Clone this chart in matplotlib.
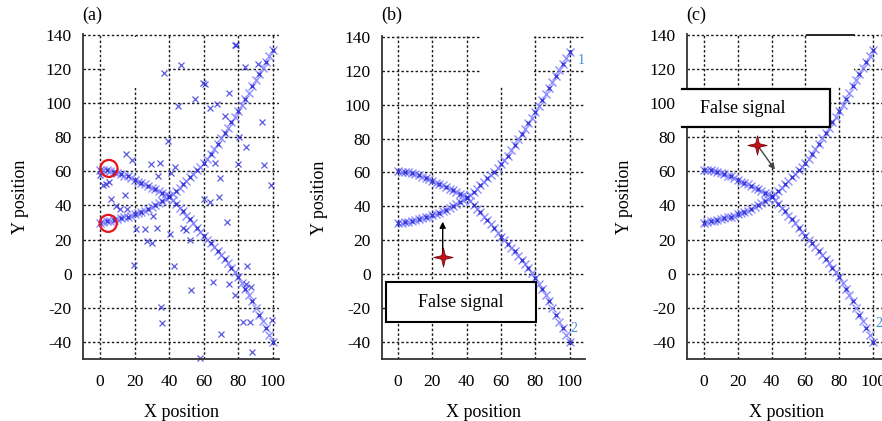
import numpy as np
import matplotlib
matplotlib.use('Agg')
import matplotlib.pyplot as plt
from matplotlib.path import Path
from matplotlib.patches import Rectangle

plt.rcParams['font.family'] = ['Liberation Serif', 'DejaVu Serif']
plt.rcParams['axes.unicode_minus'] = False

# ---------------- data ----------------
track_x = list(range(0, 101, 2))
track1_y = [30, 30.5, 31, 31, 31.5, 32, 32.5, 33, 33.5, 34, 35,
            35.5, 36, 37, 38, 39, 40, 41.5, 42.5, 44, 45.5,
            47, 48.5, 50.5, 52.5, 54.5, 56.5, 58.5, 60.5, 62.5, 65,
            67.5, 70, 73, 76, 79.5, 82.5, 85.5, 89, 92, 95.5,
            99, 102.5, 106, 110, 113.5, 117, 120.5, 124, 127.5, 131]
track2_y = [61, 60.5, 60.5, 60, 59.5, 59, 58.5, 57.5, 57, 56, 55,
            54, 53, 52.5, 51.5, 50.5, 49.5, 48.5, 47.5, 46.5, 45,
            43, 41, 38.5, 36.5, 34, 32, 29.5, 27, 24.5, 22,
            20, 18, 15.5, 13.5, 11, 8.5, 6, 3.5, 1, -2,
            -5.5, -9, -12.5, -16, -20, -24, -28, -32, -36, -40]

clutter_x = [77.8, 78.6, 46.6, 36.8, 84.0, 91.3, 59.5, 74.4, 54.7, 45.1,
             63.4, 67.6, 72.4, 93.8, 80.2, 39.3, 14.8, 18.5, 29.7, 34.5,
             43.2, 41.2, 33.5, 66.3, 79.8, 94.6, 84.6, 69.2, 98.7, 59.9,
             63.4, 68.8, 73.6, 14.3, 6.6, 9.4, 11.4, 15.6, 30.6, 21.0,
             25.8, 32.9, 40.3, 27.3, 30.2, 48.0, 49.9, 51.8, 19.5, 42.6,
             85.0, 3.6, 1.7, 5.2, 0.2, 52.4, 65.3, 74.6, 84.6, 87.5,
             78.0, 35.1, 35.8, 70.1, 82.7, 86.5, 99.6, 87.9, 57.6, 60.5]
clutter_y = [134.2, 134.2, 122.5, 117.6, 121.3, 122.9, 111.5, 106.0, 102.4, 98.1,
             97.0, 99.5, 92.7, 89.2, 80.0, 77.6, 70.3, 66.8, 64.4, 65.0,
             62.4, 59.0, 57.0, 64.8, 64.4, 63.8, 74.5, 56.0, 51.7, 44.0,
             42.0, 44.9, 30.3, 46.3, 44.0, 39.5, 37.7, 38.0, 33.6, 26.4,
             26.0, 27.0, 23.0, 19.0, 18.0, 26.8, 25.4, 19.6, 5.0, 4.4,
             4.4, 52.7, 51.7, 53.5, 58.0, -9.6, -5.1, -6.1, -6.3, -7.7,
             -12.5, -19.4, -29.1, -35.5, -28.1, -28.1, -27.2, -45.7, -49.5, 111.0]

start_x = [5.2, 4.8]
start_y = [61.7, 29.5]

false_b = (26.0, 10.0)
false_b_tip = (26.0, 31.0)
false_c = (31.4, 75.7)
false_c_tip = (42.0, 61.0)

xticks = [0, 20, 40, 60, 80, 100]
yticks = [-40, -20, 0, 20, 40, 60, 80, 100, 120, 140]
panel_labels = ['(a)', '(b)', '(c)']
box_text = 'False signal'

# ---------------- figure ----------------
W, H = 882, 421
fig = plt.figure(figsize=(W / 100, H / 100), dpi=100)

def px_axes(left, right, top, bottom):
    return [left / W, 1 - bottom / H, (right - left) / W, (bottom - top) / H]

ax_a = fig.add_axes(px_axes(83, 279, 34, 359))
ax_b = fig.add_axes(px_axes(382, 585, 36, 359))
ax_c = fig.add_axes(px_axes(687, 886.5, 34, 359))

xlims = [(-9.8, 103.5), (-9.4, 109.0), (-10.0, 108.0)]

# 4-point star marker
r_in = 0.27
sv = []
for k in range(8):
    ang = np.pi / 2 + k * np.pi / 4
    r = 1.0 if k % 2 == 0 else r_in
    sv.append((r * np.cos(ang), r * np.sin(ang)))
sv.append(sv[0])
star = Path(sv, [Path.MOVETO] + [Path.LINETO] * 7 + [Path.CLOSEPOLY])

grid_ls = (0, (1.8, 1.6))
light_blue = '#7b7bff'
dark_blue = '#2222cc'

for ax, xl, lab in zip([ax_a, ax_b, ax_c], xlims, panel_labels):
    ax.set_xlim(*xl)
    ax.set_ylim(-50, 140.5)
    ax.set_xticks(xticks)
    ax.set_yticks(yticks)
    ax.grid(True, color='#1a1a1a', linestyle=grid_ls, linewidth=1.0)
    ax.set_axisbelow(True)
    for s in ['top', 'right']:
        ax.spines[s].set_visible(False)
    for s in ['left', 'bottom']:
        ax.spines[s].set_linewidth(1.3)
        ax.spines[s].set_color('#333333')
    ax.tick_params(axis='both', length=0, labelsize=12.5)
    ax.tick_params(axis='x', pad=11)
    ax.tick_params(axis='y', pad=8)
    ax.set_xlabel('X position', fontsize=13, labelpad=10)
    ax.set_ylabel('Y position', fontsize=13, labelpad=12)
    for ty in (track1_y, track2_y):
        ax.plot(track_x, ty, linestyle='none', marker='x', ms=6, mew=1.0,
                color=light_blue, alpha=0.85, zorder=2)
        ax.plot(track_x[::2], ty[::2], linestyle='none', marker='x', ms=3.5, mew=1.0,
                color=dark_blue, alpha=0.75, zorder=2.1)
    pos = ax.get_position()
    fig.text(pos.x0 - 0.001, 1 - 15 / H, lab, fontsize=13, ha='left', va='center')

# ---- panel (a) ----
ax_a.add_patch(Rectangle((3, 109), 35, 29.5, facecolor='white', edgecolor='none', zorder=1))
ax_a.plot(clutter_x, clutter_y, linestyle='none', marker='x', ms=4.5, mew=0.9,
          color='#3030d8', alpha=0.8, zorder=2, clip_on=False)
ax_a.scatter(start_x, start_y, s=150, facecolors='none', edgecolors='#e8141c',
             linewidths=1.6, zorder=3)

# ---- panel (b) ----
ax_b.add_patch(Rectangle((48, 111), 31, 30, facecolor='white', edgecolor='none', zorder=1))
ax_b.annotate('', xy=false_b_tip, xytext=false_b,
              arrowprops=dict(arrowstyle='-|>', color='black', lw=1.0,
                              mutation_scale=9, shrinkA=0, shrinkB=0), zorder=3)
ax_b.plot(*false_b, marker=star, ms=14, color='#c0141c', mec='#6a0000', mew=0.5,
          linestyle='none', zorder=4)
ax_b.add_patch(Rectangle((-7.2, -28.2), 87.7, 23.5, facecolor='white',
                         edgecolor='black', linewidth=1.5, zorder=4))
ax_b.text(36.6, -16.5, box_text, fontsize=13, ha='center', va='center', zorder=5)
ax_b.text(106.8, 126, '1', fontsize=10, color='#3d8fd8', ha='center', va='center')
ax_b.text(102.7, -32, '2', fontsize=10, color='#3d8fd8', ha='center', va='center')

# ---- panel (c) ----
ax_c.add_patch(Rectangle((61, 110), 28, 30.5, facecolor='white', edgecolor='none', zorder=1))
ax_c.plot([61, 89], [140, 140], color='black', lw=1.2, zorder=1.5)
ax_c.annotate('', xy=false_c_tip, xytext=false_c,
              arrowprops=dict(arrowstyle='-|>', color='#444444', lw=1.0,
                              mutation_scale=9, shrinkA=0, shrinkB=0), zorder=3)
ax_c.plot(*false_c, marker=star, ms=14, color='#c0141c', mec='#6a0000', mew=0.5,
          linestyle='none', zorder=4)
ax_c.add_patch(Rectangle((-12.8, 85.8), 87.2, 22.4, facecolor='white',
                         edgecolor='none', zorder=4, clip_on=False))
ax_c.plot([-12.8, 74.4, 74.4, -12.8], [108.2, 108.2, 85.8, 85.8], color='black',
          lw=1.6, zorder=4.5, clip_on=False, solid_joinstyle='miter')
ax_c.text(-2.6, 96.8, box_text, fontsize=13, ha='left', va='center', zorder=5)
ax_c.text(103.5, -29, '2', fontsize=10, color='#3d8fd8', ha='center', va='center')

fig.savefig('out.png', dpi=100)
